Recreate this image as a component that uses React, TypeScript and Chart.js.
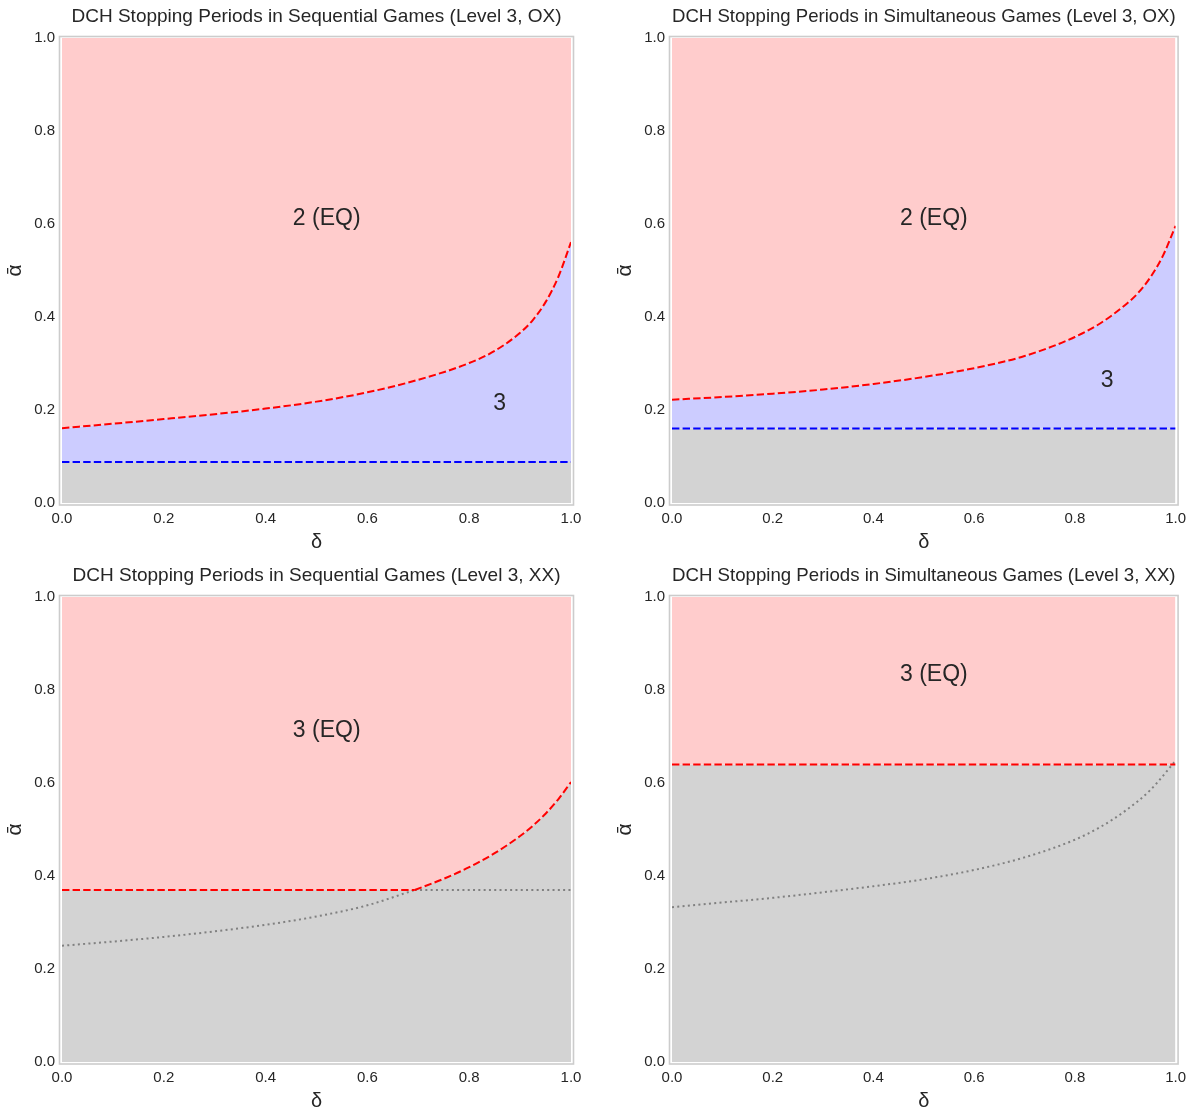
import React, { useEffect, useRef } from 'react';
import { Chart, registerables } from 'chart.js';

Chart.register(...registerables);
Chart.defaults.font.family = "'Liberation Sans', Arial, sans-serif";

// ---------- tick labels ----------
const DELTA_TICKS = [0, 0.2, 0.4, 0.6, 0.8, 1.0];
const ALPHA_TICKS = [0, 0.2, 0.4, 0.6, 0.8, 1.0];

// ---------- Sequential, OX ----------
const SEQ_OX_DELTA = [0, 0.1, 0.2, 0.3, 0.4, 0.5, 0.6, 0.7, 0.8, 0.85, 0.9, 0.925, 0.95, 0.975, 1.0];
const SEQ_OX_UPPER = [0.161, 0.1705, 0.1805, 0.191, 0.203, 0.218, 0.238, 0.265, 0.301, 0.327, 0.366, 0.3935, 0.432, 0.486, 0.561];
const SEQ_OX_LOWER = 0.088;

// ---------- Simultaneous, OX ----------
const SIM_OX_DELTA = [0, 0.1, 0.2, 0.3, 0.4, 0.5, 0.6, 0.7, 0.8, 0.85, 0.9, 0.925, 0.95, 0.975, 1.0];
const SIM_OX_UPPER = [0.222, 0.228, 0.235, 0.244, 0.256, 0.271, 0.29, 0.316, 0.357, 0.386, 0.426, 0.451, 0.4855, 0.532, 0.596];
const SIM_OX_LOWER = 0.16;

// ---------- Sequential, XX ----------
const SEQ_XX_DELTA = [0, 0.1, 0.2, 0.3, 0.4, 0.5, 0.6, 0.693, 0.75, 0.8, 0.85, 0.9, 0.925, 0.95, 0.975, 1.0];
const SEQ_XX_CURVE = [0.25, 0.259, 0.269, 0.281, 0.295, 0.313, 0.337, 0.37, 0.394, 0.419, 0.449, 0.486, 0.508, 0.534, 0.565, 0.602];
const SEQ_XX_FLOOR = 0.37;
const SEQ_XX_CROSS = 0.693;

// ---------- Simultaneous, XX ----------
const SIM_XX_DELTA = [0, 0.1, 0.2, 0.3, 0.4, 0.5, 0.6, 0.7, 0.8, 0.85, 0.9, 0.95, 1.0];
const SIM_XX_CURVE = [0.333, 0.343, 0.353, 0.365, 0.378, 0.393, 0.413, 0.44, 0.478, 0.505, 0.54, 0.585, 0.648];
const SIM_XX_LEVEL = 0.64;

// ---------- region labels ----------
const SEQ_OX_LABELS = [{ text: '2 (EQ)', x: 0.52, y: 0.612 }, { text: '3', x: 0.86, y: 0.214 }];
const SIM_OX_LABELS = [{ text: '2 (EQ)', x: 0.52, y: 0.612 }, { text: '3', x: 0.864, y: 0.264 }];
const SEQ_XX_LABELS = [{ text: '3 (EQ)', x: 0.52, y: 0.713 }];
const SIM_XX_LABELS = [{ text: '3 (EQ)', x: 0.52, y: 0.834 }];

const TITLES = [
  'DCH Stopping Periods in Sequential Games (Level 3, OX)',
  'DCH Stopping Periods in Simultaneous Games (Level 3, OX)',
  'DCH Stopping Periods in Sequential Games (Level 3, XX)',
  'DCH Stopping Periods in Simultaneous Games (Level 3, XX)',
];

// ---------- styles ----------
const TEXT = '#262626';
const PINK = 'rgb(255,204,204)';
const LAVENDER = 'rgb(204,204,255)';
const GRAY = 'rgb(211,211,211)';
const RED = '#ff0000';
const BLUE = '#0000ff';
const DOT_GRAY = '#808080';
const DASH = [7.4, 3.2];
const DOT = [2, 3.3];
const NONE = 'rgba(0,0,0,0)';

const pts = (xs: number[], ys: number[]) => xs.map((x, i) => ({ x, y: ys[i] }));
const hline = (y: number) => [{ x: 0, y }, { x: 1, y }];

const curveStyle = { cubicInterpolationMode: 'monotone' as const };

function seqOxDatasets() {
  const upper = pts(SEQ_OX_DELTA, SEQ_OX_UPPER);
  return [
    { data: upper, borderColor: RED, borderDash: DASH, borderWidth: 2, fill: 'end', backgroundColor: PINK, ...curveStyle },
    { data: hline(SEQ_OX_LOWER), borderColor: BLUE, borderDash: DASH, borderWidth: 2, fill: 'origin', backgroundColor: GRAY },
    { data: upper, borderWidth: 0, borderColor: NONE, fill: 1, backgroundColor: LAVENDER, ...curveStyle },
  ];
}

function simOxDatasets() {
  const upper = pts(SIM_OX_DELTA, SIM_OX_UPPER);
  return [
    { data: upper, borderColor: RED, borderDash: DASH, borderWidth: 2, fill: 'end', backgroundColor: PINK, ...curveStyle },
    { data: hline(SIM_OX_LOWER), borderColor: BLUE, borderDash: DASH, borderWidth: 2, fill: 'origin', backgroundColor: GRAY },
    { data: upper, borderWidth: 0, borderColor: NONE, fill: 1, backgroundColor: LAVENDER, ...curveStyle },
  ];
}

function seqXxDatasets() {
  const curve = pts(SEQ_XX_DELTA, SEQ_XX_CURVE);
  const corner = { x: SEQ_XX_CROSS, y: SEQ_XX_FLOOR };
  const rising = [corner, ...curve.filter((p) => p.x > SEQ_XX_CROSS)];
  const lowCurve = [...curve.filter((p) => p.x < SEQ_XX_CROSS), corner];
  const flatRed = [{ x: 0, y: SEQ_XX_FLOOR }, corner];
  const flatDot = [corner, { x: 1, y: SEQ_XX_FLOOR }];
  const boundary = [{ x: 0, y: SEQ_XX_FLOOR }, ...rising];
  return [
    { data: flatRed, borderColor: RED, borderDash: DASH, borderWidth: 2, fill: false },
    { data: rising, borderColor: RED, borderDash: DASH, borderWidth: 2, fill: false, ...curveStyle },
    { data: lowCurve, borderColor: DOT_GRAY, borderDash: DOT, borderWidth: 2, fill: false, ...curveStyle },
    { data: flatDot, borderColor: DOT_GRAY, borderDash: DOT, borderWidth: 2, fill: false },
    { data: boundary, borderWidth: 0, borderColor: NONE, fill: 'end', backgroundColor: PINK },
    { data: boundary, borderWidth: 0, borderColor: NONE, fill: 'origin', backgroundColor: GRAY },
  ];
}

function simXxDatasets() {
  const curve = pts(SIM_XX_DELTA, SIM_XX_CURVE);
  return [
    { data: hline(SIM_XX_LEVEL), borderColor: RED, borderDash: DASH, borderWidth: 2, fill: 'end', backgroundColor: PINK },
    { data: curve, borderColor: DOT_GRAY, borderDash: DOT, borderWidth: 2, fill: false, ...curveStyle },
    { data: hline(SIM_XX_LEVEL), borderWidth: 0, borderColor: NONE, fill: 'origin', backgroundColor: GRAY },
  ];
}

type Label = { text: string; x: number; y: number };
type Panel = {
  title: string;
  left: number;
  top: number;
  width: number;
  height: number;
  padRight: number;
  padBottom: number;
  datasets: any[];
  labels: Label[];
};

const PANELS: Panel[] = [
  { title: TITLES[0], left: 0, top: 0, width: 610, height: 559, padRight: 39, padBottom: 7, datasets: seqOxDatasets(), labels: SEQ_OX_LABELS },
  { title: TITLES[1], left: 610, top: 0, width: 583, height: 559, padRight: 12, padBottom: 7, datasets: simOxDatasets(), labels: SIM_OX_LABELS },
  { title: TITLES[2], left: 0, top: 559, width: 610, height: 552, padRight: 39, padBottom: 0, datasets: seqXxDatasets(), labels: SEQ_XX_LABELS },
  { title: TITLES[3], left: 610, top: 559, width: 583, height: 552, padRight: 12, padBottom: 0, datasets: simXxDatasets(), labels: SIM_XX_LABELS },
];

const framePlugin = {
  id: 'frame',
  afterDraw(chart: any) {
    const { ctx, chartArea } = chart;
    ctx.save();
    ctx.strokeStyle = '#cccccc';
    ctx.lineWidth = 1.6;
    ctx.strokeRect(chartArea.left - 2.5, chartArea.top - 1.5, chartArea.right - chartArea.left + 5, chartArea.bottom - chartArea.top + 3.5);
    ctx.restore();
  },
};

function makeLabelPlugin(labels: Label[]) {
  return {
    id: 'regionLabels',
    afterDatasetsDraw(chart: any) {
      const { ctx, scales } = chart;
      ctx.save();
      ctx.fillStyle = TEXT;
      ctx.font = "23px 'Liberation Sans', Arial, sans-serif";
      ctx.textAlign = 'center';
      ctx.textBaseline = 'middle';
      for (const l of labels) {
        ctx.fillText(l.text, scales.x.getPixelForValue(l.x), scales.y.getPixelForValue(l.y));
      }
      ctx.restore();
    },
  };
}

function PanelChart({ p }: { p: Panel }) {
  const ref = useRef<HTMLCanvasElement>(null);
  useEffect(() => {
    if (!ref.current) return;
    const chart = new Chart(ref.current, {
      type: 'line',
      data: { datasets: p.datasets },
      options: {
        animation: false,
        responsive: false,
        maintainAspectRatio: false,
        events: [],
        layout: { padding: { left: 0, right: p.padRight, top: 0, bottom: p.padBottom } },
        elements: { point: { radius: 0 } },
        plugins: {
          legend: { display: false },
          tooltip: { enabled: false },
          filler: { drawTime: 'beforeDatasetsDraw' },
          title: {
            display: true,
            text: p.title,
            fullSize: false,
            color: TEXT,
            font: { size: 19, weight: 'normal', lineHeight: '22px' },
            padding: { top: 6, bottom: 10 },
          },
        },
        scales: {
          x: {
            type: 'linear',
            min: 0,
            max: 1,
            grid: { display: false, drawTicks: false },
            border: { display: false },
            afterBuildTicks: (s: any) => {
              s.ticks = DELTA_TICKS.map((v) => ({ value: v }));
            },
            afterFit: (s: any) => {
              s.height = 49;
            },
            ticks: {
              padding: 7,
              color: TEXT,
              font: { size: 15 },
              maxRotation: 0,
              autoSkip: false,
              callback: (v: any) => Number(v).toFixed(1),
            },
            title: { display: true, text: 'δ', color: TEXT, font: { size: 20, lineHeight: '20px' }, padding: { top: 0, bottom: 0 } },
          },
          y: {
            type: 'linear',
            min: 0,
            max: 1,
            grid: { display: false, drawTicks: false },
            border: { display: false },
            afterBuildTicks: (s: any) => {
              s.ticks = ALPHA_TICKS.map((v) => ({ value: v }));
            },
            afterFit: (s: any) => {
              s.width = 62;
            },
            ticks: {
              padding: 7,
              color: TEXT,
              font: { size: 15 },
              autoSkip: false,
              callback: (v: any) => Number(v).toFixed(1),
            },
            title: { display: true, text: 'ᾱ', color: TEXT, font: { size: 21, lineHeight: '20px' }, padding: { top: 5, bottom: 0 } },
          },
        },
      } as any,
      plugins: [framePlugin, makeLabelPlugin(p.labels)],
    });
    return () => chart.destroy();
  }, []);
  return (
    <canvas
      ref={ref}
      width={p.width}
      height={p.height}
      style={{ position: 'absolute', left: p.left, top: p.top, width: p.width, height: p.height, display: 'block' }}
    />
  );
}

export default function App() {
  return (
    <div style={{ position: 'absolute', left: 0, top: 0, width: 1193, height: 1107, overflow: 'hidden', background: '#ffffff' }}>
      {PANELS.map((p, i) => (
        <PanelChart key={i} p={p} />
      ))}
    </div>
  );
}
